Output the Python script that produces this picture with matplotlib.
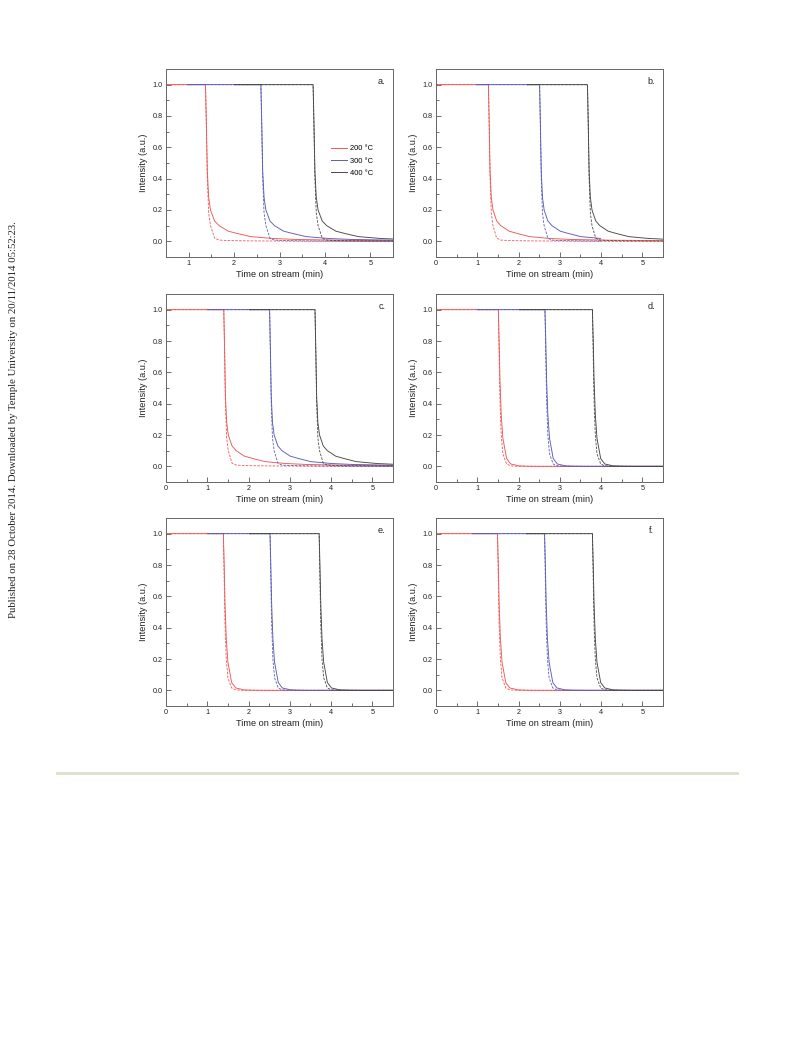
import numpy as np
import matplotlib
matplotlib.use("Agg")
import matplotlib.pyplot as plt
from matplotlib.lines import Line2D
from matplotlib.patches import Rectangle

plt.rcParams["font.family"] = ["Liberation Sans", "DejaVu Sans"]

# panels and x-range start
panel_labels = ["a.", "b.", "c.", "d.", "e.", "f."]
x_start = [0.5, 0, 0, 0, 0, 0]

# breakthrough times (min)
drop_200 = [1.37, 1.27, 1.40, 1.51, 1.39, 1.49]
drop_300 = [2.59, 2.51, 2.51, 2.64, 2.52, 2.63]
drop_400 = [3.74, 3.67, 3.61, 3.79, 3.71, 3.79]
# where each curve begins on the 1.0 plateau
begin_200 = [0.0, 0.0, 0.0, 0.0, 0.0, 0.0]
begin_300 = [0.97, 0.97, 1.0, 1.0, 1.0, 0.87]
begin_400 = [2.0, 2.2, 2.0, 2.0, 2.0, 2.18]
# where curves stop
end_200 = [5.5, 5.5, 5.5, 5.5, 5.5, 5.5]
end_300 = [5.5, 4.0, 5.5, 5.5, 5.5, 5.5]
end_400 = [5.5, 5.5, 5.5, 5.5, 5.5, 5.5]

# decay shapes after breakthrough: time offset (min) -> intensity
tail_dt = [0, 0.02, 0.04, 0.07, 0.11, 0.2, 0.3, 0.5, 0.7, 1.0, 1.5, 2.0, 3.0, 4.5]
slow_solid = [1.0, 0.75, 0.45, 0.28, 0.2, 0.13, 0.1, 0.065, 0.05, 0.03, 0.018, 0.012, 0.007, 0.004]
slow_dash = [1.0, 0.7, 0.4, 0.18, 0.1, 0.02, 0.008, 0.005, 0.004, 0.003, 0.002, 0.001, 0.0, 0.0]
sharp_solid = [1.0, 0.8, 0.55, 0.33, 0.18, 0.05, 0.015, 0.003, 0.001, 0.0, 0.0, 0.0, 0.0, 0.0]
sharp_dash = [1.0, 0.7, 0.42, 0.2, 0.08, 0.015, 0.003, 0.0, 0.0, 0.0, 0.0, 0.0, 0.0, 0.0]
shape_type = ["slow", "slow", "slow", "sharp", "sharp", "sharp"]

temps = ["200 °C", "300 °C", "400 °C"]
colors = ["#ef5757", "#5c5cb8", "#484848"]

fig = plt.figure(figsize=(7.93, 10.39), dpi=100)
W, H = 793, 1039
lefts = [166, 436]
tops = [69, 294, 518]
aw, ah = 227, 188

for i, lab in enumerate(panel_labels):
    r, c = divmod(i, 2)
    ax = fig.add_axes([lefts[c] / W, 1 - (tops[r] + ah) / H, aw / W, ah / H])

    if shape_type[i] == "slow":
        solid, dash = slow_solid, slow_dash
    else:
        solid, dash = sharp_solid, sharp_dash

    drops = [drop_200[i], drop_300[i], drop_400[i]]
    begins = [begin_200[i], begin_300[i], begin_400[i]]
    ends = [end_200[i], end_300[i], end_400[i]]
    for k in range(3):
        xs = np.concatenate([[begins[k]], drops[k] + np.array(tail_dt)])
        x0 = max(begins[k], x_start[i])
        x1 = min(ends[k], 5.5)
        for yv, kw in ((solid, dict(lw=0.65, label=temps[k])),
                       (dash, dict(lw=0.6, ls=(0, (3, 1.6))))):
            ln, = ax.plot(xs, [1.0] + yv, color=colors[k], **kw)
            ln.set_clip_path(Rectangle((x0, -0.1), x1 - x0, 1.2, transform=ax.transData))

    ax.set_xlim(x_start[i], 5.5)
    ax.set_ylim(-0.1, 1.1)
    ax.set_xticks([0, 1, 2, 3, 4, 5] if x_start[i] == 0 else [1, 2, 3, 4, 5])
    ax.set_xticks(np.arange(0.5, 5.6, 0.5), minor=True)
    ax.set_yticks([0.0, 0.2, 0.4, 0.6, 0.8, 1.0])
    ax.set_yticks(np.arange(-0.1, 1.11, 0.1), minor=True)
    ax.set_yticklabels(["0.0", "0.2", "0.4", "0.6", "0.8", "1.0"])
    ax.tick_params(which="both", direction="in", labelsize=5.2, pad=2.5,
                   color="#555555", labelcolor="#222222", width=0.6)
    ax.tick_params(which="major", length=3.5)
    ax.tick_params(which="minor", length=2)
    for s in ax.spines.values():
        s.set_color("#666666")
        s.set_linewidth(0.7)
    ax.set_xlabel("Time on stream (min)", fontsize=6.6, labelpad=1.5, color="#222222")
    ax.set_ylabel("Intensity (a.u.)", fontsize=6.6, labelpad=3, color="#222222")
    ax.text(0.95, 0.935, lab, transform=ax.transAxes, fontsize=6.5,
            ha="center", va="center", color="#222222")
    if i == 0:
        hs = [Line2D([], [], color=col, lw=0.7) for col in colors]
        ax.legend(hs, temps, loc="upper left", bbox_to_anchor=(0.71, 0.615),
                  frameon=False, fontsize=5.4, handlelength=2.1, handletextpad=0.5,
                  labelspacing=0.65, borderpad=0)

fig.text(14 / W, 1 - 420 / H,
         "Published on 28 October 2014. Downloaded by Temple University on 20/11/2014 05:52:23.",
         rotation=90, ha="center", va="center", fontsize=7.75,
         family=["Liberation Serif", "DejaVu Serif"], color="#222222")
fig.add_artist(Line2D([57 / W, 737 / W], [1 - 773 / H] * 2, color="#e2dfcf", lw=2.2))

fig.savefig("out.png", dpi=100)
